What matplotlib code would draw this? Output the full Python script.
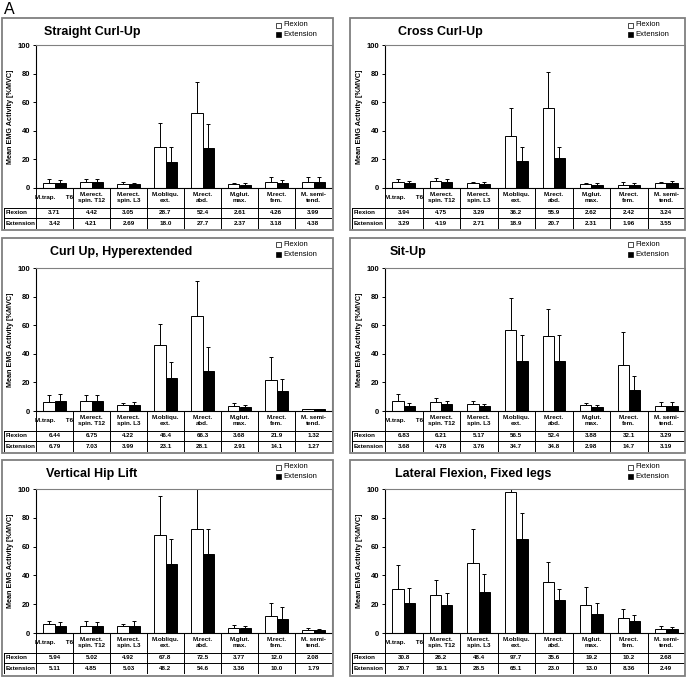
import numpy as np
import matplotlib
matplotlib.use("Agg")
import matplotlib.pyplot as plt
from matplotlib.patches import Rectangle
from matplotlib.lines import Line2D

plt.rcParams['font.family'] = ['Liberation Sans', 'DejaVu Sans']

# ---- data ----
muscles = ["M.trap.      T6", "M.erect.\nspin. T12", "M.erect.\nspin. L3", "M.obliqu.\next.",
           "M.rect.\nabd.", "M.glut.\nmax.", "M.rect.\nfem.", "M. semi-\ntend."]

titles = ["Straight Curl-Up", "Cross Curl-Up", "Curl Up, Hyperextended",
          "Sit-Up", "Vertical Hip Lift", "Lateral Flexion, Fixed legs"]

straight_flex = [3.71, 4.42, 3.05, 28.7, 52.4, 2.61, 4.26, 3.99]
straight_ext = [3.42, 4.21, 2.69, 18.0, 27.7, 2.37, 3.18, 4.38]
straight_flex_sd = [2.3, 2.1, 1.0, 16.5, 21.5, 1.0, 3.3, 3.6]
straight_ext_sd = [2.0, 2.3, 0.8, 10.5, 16.8, 1.0, 2.1, 3.6]

cross_flex = [3.94, 4.75, 3.29, 36.2, 55.9, 2.62, 2.42, 3.24]
cross_ext = [3.29, 4.19, 2.71, 18.9, 20.7, 2.31, 1.96, 3.55]
cross_flex_sd = [2.1, 2.3, 1.2, 19.8, 25.1, 0.9, 1.6, 1.0]
cross_ext_sd = [1.7, 2.3, 1.3, 10.1, 8.3, 1.2, 1.5, 1.5]

hyper_flex = [6.44, 6.75, 4.22, 46.4, 66.3, 3.68, 21.9, 1.32]
hyper_ext = [6.79, 7.03, 3.99, 23.1, 28.1, 2.91, 14.1, 1.27]
hyper_flex_sd = [5.0, 4.2, 1.3, 14.6, 24.7, 1.8, 16.1, 0.4]
hyper_ext_sd = [5.2, 4.5, 2.0, 11.4, 16.9, 1.4, 8.4, 0.3]

situp_flex = [6.83, 6.21, 5.17, 56.5, 52.4, 3.88, 32.1, 3.29]
situp_ext = [3.68, 4.78, 3.76, 34.7, 34.8, 2.98, 14.7, 3.19]
situp_flex_sd = [5.2, 2.8, 1.8, 22.5, 18.6, 1.6, 22.9, 2.7]
situp_ext_sd = [1.8, 2.2, 1.2, 18.3, 18.2, 1.3, 9.8, 2.8]

hip_flex = [5.94, 5.02, 4.92, 67.8, 72.5, 3.77, 12.0, 2.08]
hip_ext = [5.11, 4.85, 5.03, 48.2, 54.6, 3.36, 10.0, 1.79]
hip_flex_sd = [2.6, 3.0, 1.6, 27.2, 29.0, 1.7, 9.0, 1.4]
hip_ext_sd = [2.4, 3.1, 3.0, 16.8, 17.4, 1.4, 8.0, 0.9]

lateral_flex = [30.8, 26.2, 48.4, 97.7, 35.6, 19.2, 10.2, 2.68]
lateral_ext = [20.7, 19.1, 28.5, 65.1, 23.0, 13.0, 8.36, 2.49]
lateral_flex_sd = [16.7, 10.8, 23.6, 4.0, 13.4, 12.8, 6.8, 2.3]
lateral_ext_sd = [10.3, 8.9, 12.5, 17.9, 7.5, 8.0, 4.1, 1.8]

flex_text = [
    ["3.71", "4.42", "3.05", "28.7", "52.4", "2.61", "4.26", "3.99"],
    ["3.94", "4.75", "3.29", "36.2", "55.9", "2.62", "2.42", "3.24"],
    ["6.44", "6.75", "4.22", "46.4", "66.3", "3.68", "21.9", "1.32"],
    ["6.83", "6.21", "5.17", "56.5", "52.4", "3.88", "32.1", "3.29"],
    ["5.94", "5.02", "4.92", "67.8", "72.5", "3.77", "12.0", "2.08"],
    ["30.8", "26.2", "48.4", "97.7", "35.6", "19.2", "10.2", "2.68"],
]
ext_text = [
    ["3.42", "4.21", "2.69", "18.0", "27.7", "2.37", "3.18", "4.38"],
    ["3.29", "4.19", "2.71", "18.9", "20.7", "2.31", "1.96", "3.55"],
    ["6.79", "7.03", "3.99", "23.1", "28.1", "2.91", "14.1", "1.27"],
    ["3.68", "4.78", "3.76", "34.7", "34.8", "2.98", "14.7", "3.19"],
    ["5.11", "4.85", "5.03", "48.2", "54.6", "3.36", "10.0", "1.79"],
    ["20.7", "19.1", "28.5", "65.1", "23.0", "13.0", "8.36", "2.49"],
]

panels = [
    (straight_flex, straight_ext, straight_flex_sd, straight_ext_sd),
    (cross_flex, cross_ext, cross_flex_sd, cross_ext_sd),
    (hyper_flex, hyper_ext, hyper_flex_sd, hyper_ext_sd),
    (situp_flex, situp_ext, situp_flex_sd, situp_ext_sd),
    (hip_flex, hip_ext, hip_flex_sd, hip_ext_sd),
    (lateral_flex, lateral_ext, lateral_flex_sd, lateral_ext_sd),
]

# ---- layout (pixels) ----
W, H = 686, 677
fig = plt.figure(figsize=(W / 100, H / 100), dpi=100)

def fbox(x0, y0, x1, y1):
    # pixel box (top-left origin) -> figure rect
    return [x0 / W, 1 - y1 / H, (x1 - x0) / W, (y1 - y0) / H]

border_x = [(2, 333), (350, 685)]
lab_left = [4, 352]
ax_x = [(36, 332), (385, 685)]
border_y = [(18, 230), (238, 453), (460, 676)]
ax_y = [(45, 188), (268, 411), (489, 633)]
title_x = [44, 398, 50, 390, 46, 395]
cat_h, row_h = 19.5, 10.5

fig.text(4 / W, 1 - 10 / H, "A", fontsize=11.5, va='center', ha='left')

for k in range(6):
    r, c = divmod(k, 2)
    flex, ext, fsd, esd = panels[k]
    bx0, bx1 = border_x[c]
    by0, by1 = border_y[r]
    axl, axr = ax_x[c]
    axt, axb = ax_y[r]

    fig.patches.append(Rectangle((bx0 / W, 1 - by1 / H), (bx1 - bx0) / W, (by1 - by0) / H,
                                 transform=fig.transFigure, fill=False,
                                 edgecolor='#7f7f7f', linewidth=1.3))

    ax = fig.add_axes(fbox(axl, axt, axr, axb))
    x = np.arange(len(muscles))
    ax.bar(x - 0.15, flex, width=0.3, color='white', edgecolor='black', linewidth=0.7,
           yerr=[np.zeros(8), fsd], error_kw=dict(elinewidth=0.7, capsize=1.5, capthick=0.7, ecolor='black'))
    ax.bar(x + 0.15, ext, width=0.3, color='black', edgecolor='black', linewidth=0.7,
           yerr=[np.zeros(8), esd], error_kw=dict(elinewidth=0.7, capsize=1.5, capthick=0.7, ecolor='black'))
    ax.set_xlim(-0.5, 7.5)
    ax.set_ylim(0, 100)
    ax.set_yticks([0, 20, 40, 60, 80, 100])
    ax.set_xticks([])
    ax.tick_params(axis='y', length=2.5, width=0.7, pad=1.5, labelsize=5.5)
    for t in ax.get_yticklabels():
        t.set_fontweight('bold')
    ax.spines['left'].set_linewidth(0.8)
    ax.spines['bottom'].set_linewidth(0.8)
    for s in ['top', 'right']:
        ax.spines[s].set_color('#808080')
        ax.spines[s].set_linewidth(0.8)
    ax.set_ylabel("Mean EMG Activity [%MVC]", fontsize=5.2, fontweight='bold', labelpad=3)

    fig.text(title_x[k] / W, 1 - (by0 + 14) / H, titles[k], fontsize=9, fontweight='bold',
             ha='left', va='center')
    # legend
    lx = bx1 - 57
    for j, (lab, fc) in enumerate([("Flexion", 'white'), ("Extension", 'black')]):
        ly = by0 + 7 + 9 * j
        fig.patches.append(Rectangle(((lx) / W, 1 - (ly + 2.5) / H), 5 / W, 5 / H,
                                     transform=fig.transFigure, facecolor=fc,
                                     edgecolor='black', linewidth=0.5))
        fig.text((lx + 7) / W, 1 - ly / H, lab, fontsize=5.5, ha='left', va='center')

    # table
    cw = (axr - axl) / 8
    tab = fig.add_axes(fbox(lab_left[c], axb, axr, axb + cat_h + 2 * row_h))
    x0 = -0.5 - (axl - lab_left[c]) / cw
    tab.set_xlim(x0, 7.5)
    tab.set_ylim(cat_h + 2 * row_h, 0)
    tab.axis('off')
    lw = 0.7
    ys = [cat_h, cat_h + row_h, cat_h + 2 * row_h]
    tab.add_line(Line2D([x0, 7.5], [ys[0], ys[0]], color='black', lw=lw))
    tab.add_line(Line2D([x0, 7.5], [ys[1], ys[1]], color='black', lw=lw))
    tab.add_line(Line2D([x0, 7.5], [ys[2], ys[2]], color='black', lw=lw))
    tab.add_line(Line2D([x0, x0], [ys[0], ys[2]], color='black', lw=lw))
    for i in range(9):
        tab.add_line(Line2D([i - 0.5, i - 0.5], [0, ys[2]], color='black', lw=lw))
    for i in range(8):
        tab.text(i, cat_h / 2, muscles[i], fontsize=4.5, fontweight='bold',
                 ha='center', va='center', linespacing=1.3)
        tab.text(i, cat_h + row_h / 2, flex_text[k][i], fontsize=4.5, fontweight='bold',
                 ha='center', va='center')
        tab.text(i, cat_h + 1.5 * row_h, ext_text[k][i], fontsize=4.5, fontweight='bold',
                 ha='center', va='center')
    tab.text(x0 + 0.05, cat_h + row_h / 2, "Flexion", fontsize=4.5, fontweight='bold',
             ha='left', va='center')
    tab.text(x0 + 0.05, cat_h + 1.5 * row_h, "Extension", fontsize=4.5, fontweight='bold',
             ha='left', va='center')

fig.savefig("out.png", dpi=100)
